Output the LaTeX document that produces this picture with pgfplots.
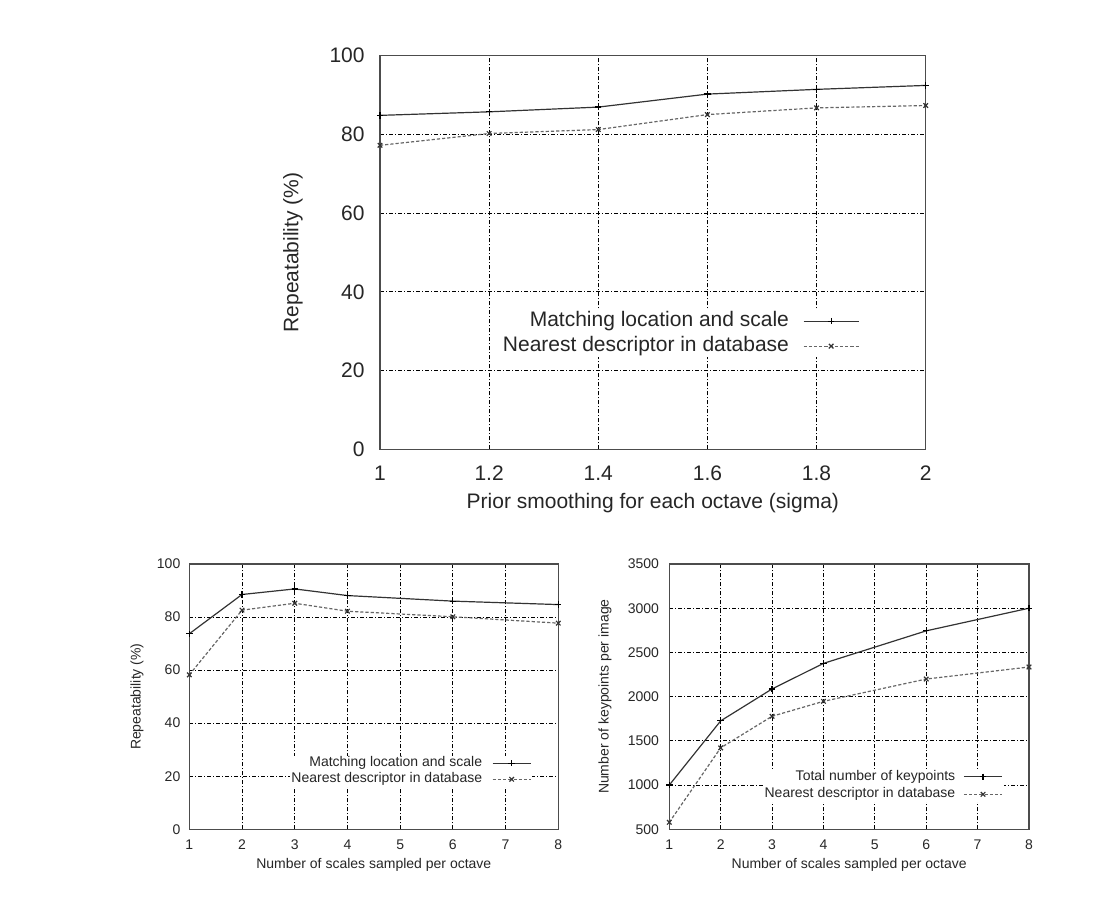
\documentclass[border=0pt]{standalone}
\usepackage{pgfplots}
\pgfplotsset{compat=1.18}
\usepackage{fontspec}
\setmainfont{Liberation Sans}
\definecolor{txt}{gray}{0.15}
\definecolor{axc}{gray}{0.3}
\definecolor{lnA}{gray}{0.2}
\definecolor{lnB}{gray}{0.4}
\pgfplotsset{
  common/.style={
    scale only axis, clip=false,
    axis line style={axc, line width=0.6pt},
    grid=major,
    major grid style={black, line width=0.45pt, dash pattern=on 2pt off 1pt on 0.5pt off 1pt},
    major tick length=0pt,
    scaled ticks=false,
    /pgf/number format/1000 sep={},
    /pgf/number format/assume math mode=true,
    tick label style={text=txt},
    label style={text=txt},
    legend cell align=right,
    legend plot pos=right,
  },
  serA/.style={lnA, line width=0.6pt, mark=+, mark size=1.6pt, mark options={solid, black}},
  serB/.style={lnB, line width=0.6pt, dash pattern=on 1.6pt off 1pt, mark=x, mark size=1.6pt, mark options={solid, black!80}},
}
\begin{document}
\begin{tikzpicture}
\useasboundingbox (0,0) rectangle (555pt,448.5pt);
% ---------------- top plot ----------------
\begin{axis}[common,
  at={(190pt,223.75pt)}, anchor=south west,
  width=272.85pt, height=197pt,
  xmin=1, xmax=2, ymin=0, ymax=100,
  xtick={1,1.2,1.4,1.6,1.8,2}, ytick={0,20,40,60,80,100},
  xticklabel style={font=\fontsize{10.5}{12.6}\selectfont, anchor=north, inner sep=0pt, yshift=-8pt},
  yticklabel style={font=\fontsize{10.5}{12.6}\selectfont, anchor=east, inner sep=0pt, xshift=-7.5pt},
  xlabel={Prior smoothing for each octave (sigma)},
  xlabel style={font=\fontsize{10.5}{12.6}\selectfont, at={(axis description cs:0.5,-0.1358)}, anchor=center},
  ylabel={Repeatability (\%)},
  ylabel style={font=\fontsize{10.5}{12.6}\selectfont, at={(axis description cs:-0.1594,0.5)}, anchor=center},
  legend style={draw=none, fill=white, inner sep=0.5pt, text=txt,
    font=\fontsize{10.5}{12.6}\selectfont,
    at={(axis description cs:0.881,0.294)}, anchor=east,
    nodes={inner sep=0pt, text height=7.7pt, text depth=2.2pt},
    row sep=2.6pt, column sep=7pt},
  legend image code/.code={\draw[mark repeat=2, mark phase=2] plot coordinates {(0cm,0cm) (0.485cm,0cm) (0.97cm,0cm)};},
]
\addplot[serA] coordinates {(1,84.8) (1.2,85.7) (1.4,86.9) (1.6,90.2) (1.8,91.4) (2,92.4)};
\addlegendentry{Matching location and scale}
\addplot[serB] coordinates {(1,77.2) (1.2,80.2) (1.4,81.2) (1.6,85.0) (1.8,86.7) (2,87.3)};
\addlegendentry{Nearest descriptor in database}
\end{axis}
% ---------------- bottom left ----------------
\begin{axis}[common,
  at={(94.65pt,33.85pt)}, anchor=south west,
  width=184.5pt, height=132.65pt,
  xmin=1, xmax=8, ymin=0, ymax=100,
  xtick={1,2,3,4,5,6,7,8}, ytick={0,20,40,60,80,100},
  xticklabel style={font=\fontsize{7}{8.4}\selectfont, anchor=north, inner sep=0pt, yshift=-4.85pt},
  yticklabel style={font=\fontsize{7}{8.4}\selectfont, anchor=east, inner sep=0pt, xshift=-4.3pt},
  xlabel={Number of scales sampled per octave},
  xlabel style={font=\fontsize{7}{8.4}\selectfont, at={(axis description cs:0.5,-0.1346)}, anchor=center},
  ylabel={Repeatability (\%)},
  ylabel style={font=\fontsize{7}{8.4}\selectfont, at={(axis description cs:-0.1417,0.5)}, anchor=center},
  legend style={draw=none, fill=white, inner sep=0.5pt, text=txt,
    font=\fontsize{7}{8.4}\selectfont,
    at={(axis description cs:0.9306,0.2186)}, anchor=east,
    nodes={inner sep=0pt, text height=5.1pt, text depth=1.5pt},
    row sep=1.4pt, column sep=5pt},
  legend image code/.code={\draw[mark repeat=2, mark phase=2] plot coordinates {(0cm,0cm) (0.333cm,0cm) (0.667cm,0cm)};},
]
\addplot[serA] coordinates {(1,73.7) (2,88.5) (3,90.6) (4,88.1) (6,86.0) (8,84.7)};
\addlegendentry{Matching location and scale}
\addplot[serB] coordinates {(1,58.2) (2,82.6) (3,85.2) (4,82.2) (6,80.1) (8,77.7)};
\addlegendentry{Nearest descriptor in database}
\end{axis}
% ---------------- bottom right ----------------
\begin{axis}[common,
  at={(334.65pt,33.85pt)}, anchor=south west,
  width=179.85pt, height=132.65pt,
  xmin=1, xmax=8, ymin=500, ymax=3500,
  xtick={1,2,3,4,5,6,7,8}, ytick={500,1000,1500,2000,2500,3000,3500},
  xticklabel style={font=\fontsize{7}{8.4}\selectfont, anchor=north, inner sep=0pt, yshift=-4.85pt},
  yticklabel style={font=\fontsize{7}{8.4}\selectfont, anchor=east, inner sep=0pt, xshift=-5pt},
  xlabel={Number of scales sampled per octave},
  xlabel style={font=\fontsize{7}{8.4}\selectfont, at={(axis description cs:0.5,-0.1346)}, anchor=center},
  ylabel={Number of keypoints per image},
  ylabel style={font=\fontsize{7}{8.4}\selectfont, at={(axis description cs:-0.1788,0.5)}, anchor=center},
  legend style={draw=none, fill=white, inner sep=0.5pt, text=txt,
    font=\fontsize{7}{8.4}\selectfont,
    at={(axis description cs:0.9313,0.165)}, anchor=east,
    nodes={inner sep=0pt, text height=5.1pt, text depth=1.5pt},
    row sep=2.2pt, column sep=4pt},
  legend image code/.code={\draw[mark repeat=2, mark phase=2] plot coordinates {(0cm,0cm) (0.337cm,0cm) (0.675cm,0cm)};},
]
\addplot[serA] coordinates {(1,1000) (2,1726) (3,2087) (4,2376) (6,2744) (8,3000)};
\addlegendentry{Total number of keypoints}
\addplot[serB] coordinates {(1,579) (2,1421) (3,1778) (4,1947) (6,2199) (8,2335)};
\addlegendentry{Nearest descriptor in database}
\end{axis}
\end{tikzpicture}
\end{document}
